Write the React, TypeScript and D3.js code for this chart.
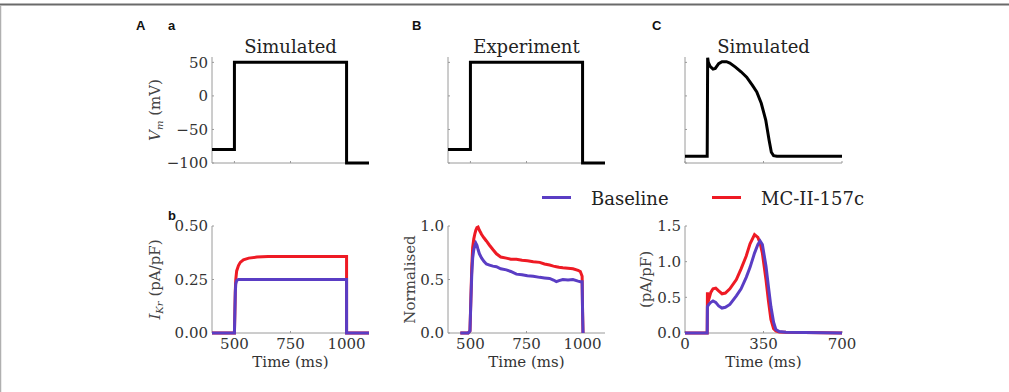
import React from "react";
import * as d3 from "d3";

// voltage-clamp step protocol (ms, mV)
const stepTime = [400, 500, 500, 1000, 1000, 1100];
const stepVoltage = [-80, -80, 50, 50, -100, -100];

// simulated action potential (ms, mV)
const apTime = [0, 99, 101, 104, 112, 125, 135, 150, 165, 185, 200, 225, 250, 275, 300, 320, 340, 360, 375, 385, 395, 410, 700];
const apVoltage = [-90, -90, 57, 50, 44, 40, 41, 48, 51, 51, 49, 43, 36, 28, 16, 6, -11, -36, -66, -84, -89, -90, -90];

// simulated IKr during the step (ms, pA/pF)
const stepCurrentTime = [400, 500, 502, 504, 506, 510, 518, 526, 540, 564, 600, 650, 1000, 1000, 1100];
const stepCurrentBaseline = [0, 0, 0.1, 0.19, 0.23, 0.245, 0.25, 0.25, 0.25, 0.25, 0.25, 0.25, 0.25, 0, 0];
const stepCurrentDrug = [0, 0, 0.1, 0.2, 0.25, 0.29, 0.315, 0.33, 0.342, 0.35, 0.355, 0.357, 0.357, 0, 0];

// recorded IKr, normalised to the drug peak (ms, -)
const expTime = [455, 470, 490, 498, 502, 506, 510, 515, 520, 524, 529, 534, 540, 550, 560, 571, 585, 600, 616, 635, 660, 680, 705, 730, 754, 780, 809, 830, 853, 870, 883, 895, 912, 935, 957, 980, 990, 998, 1000, 1002];
const expBaseline = [0, 0, 0, 0.02, 0.3, 0.55, 0.7, 0.78, 0.82, 0.84, 0.82, 0.78, 0.74, 0.7, 0.67, 0.645, 0.635, 0.625, 0.62, 0.6, 0.59, 0.575, 0.55, 0.545, 0.535, 0.53, 0.52, 0.515, 0.51, 0.495, 0.48, 0.49, 0.5, 0.495, 0.5, 0.485, 0.48, 0.48, 0.2, 0];
const expDrug = [0, 0, 0, 0.02, 0.32, 0.62, 0.8, 0.88, 0.93, 0.96, 0.985, 0.99, 0.96, 0.92, 0.89, 0.86, 0.82, 0.78, 0.74, 0.71, 0.7, 0.69, 0.69, 0.68, 0.675, 0.665, 0.66, 0.645, 0.635, 0.625, 0.62, 0.615, 0.61, 0.605, 0.6, 0.585, 0.575, 0.53, 0.2, 0];

// simulated IKr during the action potential (ms, pA/pF)
const apCurrentTime = [0, 99, 100, 102, 106, 115, 125, 137, 150, 165, 180, 200, 229, 250, 273, 290, 310, 325, 335, 345, 361, 372, 383, 395, 405, 420, 450, 700];
const apCurrentBaseline = [0, 0, 0.37, 0.38, 0.4, 0.43, 0.45, 0.43, 0.38, 0.35, 0.36, 0.4, 0.52, 0.62, 0.78, 0.92, 1.12, 1.24, 1.29, 1.24, 0.94, 0.65, 0.37, 0.15, 0.05, 0.02, 0.01, 0];
const apCurrentDrug = [0, 0, 0.57, 0.5, 0.47, 0.57, 0.62, 0.63, 0.59, 0.55, 0.56, 0.62, 0.75, 0.9, 1.08, 1.25, 1.38, 1.34, 1.26, 1.12, 0.75, 0.45, 0.19, 0.06, 0.03, 0.015, 0.01, 0];

const seriesNames = ["Baseline", "MC-II-157c"];
const BLUE = "#5a3dc4";
const RED = "#ee1a24";
const SERIF = "'DejaVu Serif', serif";
const SPINE = "#9a9a9a";

type Series = { x: number[]; y: number[]; color: string };

type PanelProps = {
  left: number;
  top: number;
  bottom: number;
  width: number;
  xDomain: [number, number];
  yDomain: [number, number];
  xTicks: number[];
  yTicks: number[];
  yFormat?: (v: number) => string;
  xLabels?: boolean;
  yLabels?: boolean;
  series: Series[];
  title?: string;
  yLabel?: React.ReactNode;
  yLabelX?: number;
  lineWidth?: number;
};

const Panel = ({
  left, top, bottom, width, xDomain, yDomain, xTicks, yTicks, yFormat,
  xLabels, yLabels, series, title, yLabel, yLabelX, lineWidth = 3,
}: PanelProps) => {
  const x = d3.scaleLinear().domain(xDomain).range([left, left + width]);
  const y = d3.scaleLinear().domain(yDomain).range([bottom, top]);

  // matplotlib-style minus sign on negative ticks
  const fmt = yFormat ?? ((v: number) => String(v).replace("-", "\u2212"));

  return (
    <g>
      {/* left and bottom spines only */}
      <line x1={left} x2={left} y1={y(yDomain[1])} y2={bottom} stroke={SPINE} strokeWidth={1} />
      <line x1={left} x2={left + width} y1={bottom} y2={bottom} stroke={SPINE} strokeWidth={1} />
      {yTicks.map((t) => (
        <g key={"y" + t}>
          <line x1={left} x2={left + 2} y1={y(t)} y2={y(t)} stroke={SPINE} />
          {yLabels && (
            <text
              x={left - 4}
              y={y(t)}
              dy="0.36em"
              textAnchor="end"
              fontFamily={SERIF}
              fontSize={15}
              fill="#333"
            >
              {fmt(t)}
            </text>
          )}
        </g>
      ))}
      {xTicks.map((t) => (
        <g key={"x" + t}>
          <line x1={x(t)} x2={x(t)} y1={bottom} y2={bottom - 2} stroke={SPINE} />
          {xLabels && (
            <text
              x={x(t)}
              y={bottom + 16}
              textAnchor="middle"
              fontFamily={SERIF}
              fontSize={15}
              fill="#333"
            >
              {t}
            </text>
          )}
        </g>
      ))}
      {series.map((s, k) => {
        const path = d3
          .line<number>()
          .x((d) => x(d))
          .y((_, i) => y(s.y[i]))(s.x);
        return (
          <path
            key={k}
            d={path ?? ""}
            fill="none"
            stroke={s.color}
            strokeWidth={lineWidth}
          />
        );
      })}
      {xLabels && (
        <text
          x={left + width / 2}
          y={bottom + 34}
          textAnchor="middle"
          fontFamily={SERIF}
          fontSize={15}
          fill="#333"
        >
          Time (ms)
        </text>
      )}
      {title && (
        <text
          x={left + width / 2}
          y={top - 4}
          textAnchor="middle"
          fontFamily={SERIF}
          fontSize={18}
          fill="#222"
        >
          {title}
        </text>
      )}
      {yLabel && (
        <text
          transform={`translate(${yLabelX},${(top + bottom) / 2}) rotate(-90)`}
          textAnchor="middle"
          fontFamily={SERIF}
          fontSize={15}
          fill="#444"
        >
          {yLabel}
        </text>
      )}
    </g>
  );
};

const PanelLetter = ({ x, y, children }: { x: number; y: number; children: React.ReactNode }) => (
  <text x={x} y={y} fontFamily="'Liberation Sans', Arial, sans-serif" fontWeight="bold" fontSize={13} fill="#111">
    {children}
  </text>
);

export default function App() {
  const topRow = { top: 57, bottom: 163 };
  const botRow = { top: 226, bottom: 333 };
  const w = 157;
  const cols = [212, 448, 685];
  const vDomain: [number, number] = [-100, 58];
  const vTicks = [-100, -50, 0, 50];

  return (
    <svg width={1009} height={392} style={{ position: "absolute", left: 0, top: 0, background: "#fff" }}>
      <rect x={0} y={0} width={1009} height={392} fill="#fff" />
      <line x1={0} x2={1009} y1={4.5} y2={4.5} stroke="#6a6a6a" strokeWidth={2} />
      <line x1={0.5} x2={0.5} y1={5} y2={392} stroke="#b0b0b0" strokeWidth={1.5} />

      <PanelLetter x={136} y={30}>A</PanelLetter>
      <PanelLetter x={168} y={30}>a</PanelLetter>
      <PanelLetter x={412} y={30}>B</PanelLetter>
      <PanelLetter x={652} y={30}>C</PanelLetter>
      <PanelLetter x={168} y={220}>b</PanelLetter>

      {/* top row: voltage */}
      <Panel
        left={cols[0]} width={w} {...topRow}
        xDomain={[400, 1100]} yDomain={vDomain}
        xTicks={[500, 750, 1000]} yTicks={vTicks} yLabels
        series={[{ x: stepTime, y: stepVoltage, color: "#000" }]}
        title="Simulated"
        yLabel={<><tspan fontStyle="italic">V</tspan><tspan fontStyle="italic" fontSize={10} dy={3}>m</tspan><tspan dy={-3}> (mV)</tspan></>}
        yLabelX={160}
      />
      <Panel
        left={cols[1]} width={w} {...topRow}
        xDomain={[400, 1100]} yDomain={vDomain}
        xTicks={[500, 750, 1000]} yTicks={vTicks}
        series={[{ x: stepTime, y: stepVoltage, color: "#000" }]}
        title="Experiment"
      />
      <Panel
        left={cols[2]} width={w} {...topRow}
        xDomain={[0, 700]} yDomain={vDomain}
        xTicks={[0, 350, 700]} yTicks={vTicks}
        series={[{ x: apTime, y: apVoltage, color: "#000" }]}
        title="Simulated"
      />

      {/* bottom row: IKr */}
      <Panel
        left={cols[0]} width={w} {...botRow}
        xDomain={[400, 1100]} yDomain={[0, 0.5]}
        xTicks={[500, 750, 1000]} yTicks={[0, 0.25, 0.5]} yFormat={(v) => v.toFixed(2)}
        xLabels yLabels
        series={[
          { x: stepCurrentTime, y: stepCurrentDrug, color: RED },
          { x: stepCurrentTime, y: stepCurrentBaseline, color: BLUE },
        ]}
        yLabel={<><tspan fontStyle="italic">I</tspan><tspan fontStyle="italic" fontSize={10} dy={3}>Kr</tspan><tspan dy={-3}> (pA/pF)</tspan></>}
        yLabelX={160}
      />
      <Panel
        left={cols[1]} width={w} {...botRow}
        xDomain={[400, 1100]} yDomain={[0, 1]}
        xTicks={[500, 750, 1000]} yTicks={[0, 0.5, 1]} yFormat={(v) => v.toFixed(1)}
        xLabels yLabels
        series={[
          { x: expTime, y: expDrug, color: RED },
          { x: expTime, y: expBaseline, color: BLUE },
        ]}
        yLabel="Normalised"
        yLabelX={415}
      />
      <Panel
        left={cols[2]} width={w} {...botRow}
        xDomain={[0, 700]} yDomain={[0, 1.5]}
        xTicks={[0, 350, 700]} yTicks={[0, 0.5, 1, 1.5]} yFormat={(v) => v.toFixed(1)}
        xLabels yLabels
        series={[
          { x: apCurrentTime, y: apCurrentDrug, color: RED },
          { x: apCurrentTime, y: apCurrentBaseline, color: BLUE },
        ]}
        yLabel="(pA/pF)"
        yLabelX={651}
      />

      {/* legend */}
      {seriesNames.map((name, i) => {
        const lx = [542, 712][i];
        return (
          <g key={name}>
            <line x1={lx} x2={lx + 29} y1={197.5} y2={197.5} stroke={i === 0 ? BLUE : RED} strokeWidth={3} />
            <text x={lx + 49} y={205} fontFamily={SERIF} fontSize={18} fill="#222">
              {name}
            </text>
          </g>
        );
      })}
    </svg>
  );
}
